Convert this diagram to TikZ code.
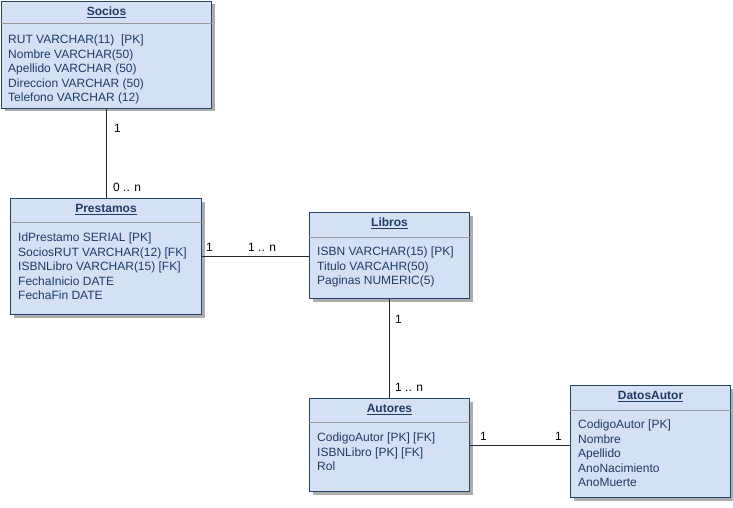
\documentclass[tikz,border=0pt]{standalone}
\usepackage{fontspec}
\setmainfont{Liberation Sans}
\usepackage{tikz}
\usetikzlibrary{positioning,shadows}
\definecolor{EntFill}{HTML}{D4E1F5}
\definecolor{EntLine}{HTML}{23446D}
\definecolor{EntText}{HTML}{1F3B66}
\definecolor{EntSep}{HTML}{9A9A9A}

\begin{document}
\begin{tikzpicture}[x=1pt, y=-1pt,
                    entity/.style={draw=EntLine, fill=EntFill, line width=1pt, anchor=north west,
                                   inner sep=0pt,
                                   drop shadow={shadow xshift=3pt, shadow yshift=-3pt,
                                                fill=black!32, opacity=1}},
                    etitle/.style={inner sep=0pt, text=EntText,
                                   font=\fontsize{12}{14.5}\selectfont\bfseries},
                    eattrs/.style={inner sep=0pt, text=EntText, align=left,
                                   font=\fontsize{12}{14.5}\selectfont},
                    esep/.style={draw=EntSep, line width=1pt},
                    link/.style={draw=black!85, line width=1pt},
                    card/.style={inner sep=0pt, anchor=base west,
                                 font=\fontsize{12}{14.5}\selectfont}]
\fill[white] (0,0) rectangle (733,508);
\useasboundingbox (0,0) rectangle (733,508);

\node[entity, minimum width=210pt, minimum height=107pt] (socios) at (1,1) {};
\node[etitle, below=6pt of socios.north] (socios-t) {\underline{Socios}};
\draw[esep] ([yshift=-23pt]socios.north west) -- ([yshift=-23pt]socios.north east);
\node[eattrs, below right=34pt and 7pt of socios.north west] (socios-a)
  {RUT VARCHAR(11)\ \ [PK]\\Nombre VARCHAR(50)\\Apellido VARCHAR (50)\\Direccion VARCHAR (50)\\Telefono VARCHAR (12)};

\node[entity, minimum width=191pt, minimum height=116pt] (prestamos) at (10,198) {};
\node[etitle, below=6pt of prestamos.north] (prestamos-t) {\underline{Prestamos}};
\draw[esep] ([yshift=-24pt]prestamos.north west) -- ([yshift=-24pt]prestamos.north east);
\node[eattrs, below right=35pt and 8pt of prestamos.north west] (prestamos-a)
  {IdPrestamo SERIAL [PK]\\SociosRUT VARCHAR(12) [FK]\\ISBNLibro VARCHAR(15) [FK]\\FechaInicio DATE\\FechaFin DATE};

\node[entity, minimum width=160pt, minimum height=86pt] (libros) at (309,212) {};
\node[etitle, below=6pt of libros.north] (libros-t) {\underline{Libros}};
\draw[esep] ([yshift=-25pt]libros.north west) -- ([yshift=-25pt]libros.north east);
\node[eattrs, below right=35pt and 8pt of libros.north west] (libros-a)
  {ISBN VARCHAR(15) [PK]\\Titulo VARCAHR(50)\\Paginas NUMERIC(5)};

\node[entity, minimum width=160pt, minimum height=93pt] (autores) at (309,398) {};
\node[etitle, below=6pt of autores.north] (autores-t) {\underline{Autores}};
\draw[esep] ([yshift=-24pt]autores.north west) -- ([yshift=-24pt]autores.north east);
\node[eattrs, below right=35pt and 8pt of autores.north west] (autores-a)
  {CodigoAutor [PK] [FK]\\ISBNLibro [PK] [FK]\\Rol};

\node[entity, minimum width=160pt, minimum height=112pt] (datos) at (570,385) {};
\node[etitle, below=6pt of datos.north] (datos-t) {\underline{DatosAutor}};
\draw[esep] ([yshift=-25pt]datos.north west) -- ([yshift=-25pt]datos.north east);
\node[eattrs, below right=35pt and 8pt of datos.north west] (datos-a)
  {CodigoAutor [PK]\\Nombre\\Apellido\\AnoNacimiento\\AnoMuerte};

\draw[link] (socios.south) -- (socios.south |- prestamos.north);
\draw[link] (prestamos.east) -- (prestamos.east -| libros.west);
\draw[link] (libros.south) -- (autores.north);
\draw[link] (autores.east) -- (autores.east -| datos.west);

\node[card] (c-socios) at (114,132) {1};
\node[card] (c-prest-s) at (113,191) {0 .. n};
\node[card] (c-prest-l) at (206,251) {1};
\node[card] (c-libros-p) at (248,251) {1 .. n};
\node[card] (c-libros-a) at (395,323) {1};
\node[card] (c-autores-l) at (395,391) {1 .. n};
\node[card] (c-autores-d) at (480,440) {1};
\node[card] (c-datos) at (555,440) {1};
\end{tikzpicture}
\end{document}
